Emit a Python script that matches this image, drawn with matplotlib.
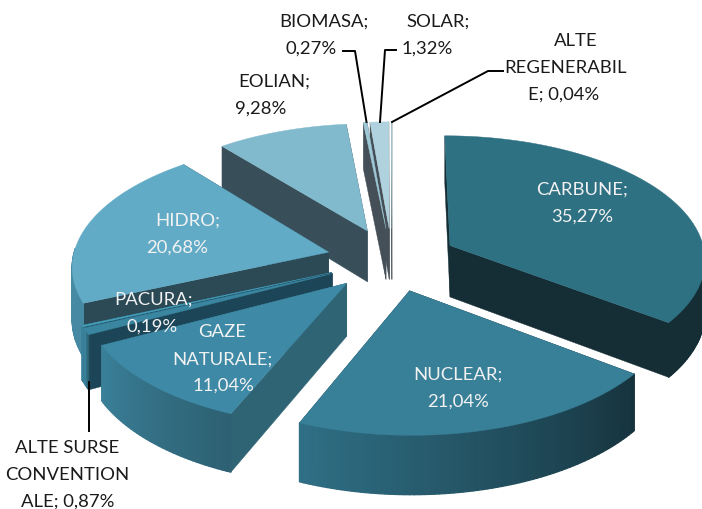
import numpy as np
import matplotlib
matplotlib.use('Agg')
import matplotlib.pyplot as plt
from matplotlib.collections import PolyCollection
from matplotlib.colors import to_rgb

plt.rcParams['font.family'] = ['Lato', 'DejaVu Sans']

# values going clockwise from the top of the pie
names = ['CARBUNE', 'NUCLEAR', 'GAZE NATURALE', 'ALTE SURSE CONVENTIONALE', 'PACURA',
         'HIDRO', 'EOLIAN', 'BIOMASA', 'SOLAR', 'ALTE REGENERABILE']
values = [35.27, 21.04, 11.04, 0.87, 0.19, 20.68, 9.28, 0.27, 1.32, 0.04]
labels = ['CARBUNE;\n35,27%', 'NUCLEAR;\n21,04%', 'GAZE\nNATURALE;\n11,04%',
          'ALTE SURSE\nCONVENTION\nALE; 0,87%', 'PACURA;\n0,19%', 'HIDRO;\n20,68%',
          'EOLIAN;\n9,28%', 'BIOMASA;\n0,27%', 'SOLAR;\n1,32%', 'ALTE\nREGENERABIL\nE; 0,04%']

top_cols = ['#2e7183', '#387f98', '#3e8aa6', '#3a85a0', '#46a0bd',
            '#62abc6', '#82bacd', '#9ec8d6', '#b0d2de', '#b5d6e0']
wall_cols = ['#152e36', '#1a3a47', '#2f6475', '#1c4658', '#1f4d60',
             '#2c4a56', '#384f5a', '#454f57', '#454f57', '#454f57']
arc_left = ['#152e36', '#2f6f85', '#3a8099', '#3a829c', '#3a829c',
            '#4a8ba3', '#6a9aad', '#6a9aad', '#6a9aad', '#6a9aad']
arc_right = ['#152e36', '#16333d', '#2d6072', '#2b6070', '#2b6070',
             '#4589a3', '#6a9aad', '#6a9aad', '#6a9aad', '#6a9aad']
label_cols = ['#f2f2f2', '#f2f2f2', '#f2f2f2', '#1a1a1a', '#f2f2f2',
              '#f2f2f2', '#1a1a1a', '#1a1a1a', '#1a1a1a', '#1a1a1a']
# centre of each text line: x per line, y of the first line
label_x = [[582, 582], [458, 458], [222, 222, 223], [67.5, 67.5, 67.5], [153, 152],
           [188, 177], [274, 261], [324, 311], [438, 427], [576, 565, 564]]
label_y = [188, 373, 331, 447, 298, 219, 80, 20, 20, 40]
LINE_GAP = 26.7

CX, CY = 392, 260.5
S, TILT, K = 256, 0.482, 0.10
DEPTH = 52
EXPLODE = 0.256


def project(u, v, z=0.0):
    w = 1 + K * v
    return np.column_stack([CX + S * u / w, CY - S * TILT * v / w + z * DEPTH / w])


fig = plt.figure(figsize=(7.02, 5.10), dpi=100)
ax = fig.add_axes([0, 0, 1, 1])
ax.set_xlim(0, 702)
ax.set_ylim(510, 0)
ax.axis('off')

fracs = np.array(values) / np.sum(values) * 2 * np.pi
ends = np.cumsum(fracs)
starts = ends - fracs
mids = (starts + ends) / 2

# far slices first so the near ones paint over them
for i in np.argsort(-np.cos(mids)):
    a = np.linspace(starts[i], ends[i], max(4, int(fracs[i] * 60)))
    ou, ov = EXPLODE * np.sin(mids[i]), EXPLODE * np.cos(mids[i])
    u, v = ou + np.sin(a), ov + np.cos(a)
    apex_u, apex_v = np.array([ou]), np.array([ov])

    for j in (0, -1):
        wall = np.vstack([project(apex_u, apex_v), project(u[[j]], v[[j]]),
                          project(u[[j]], v[[j]], 1), project(apex_u, apex_v, 1)])
        ax.fill(wall[:, 0], wall[:, 1], color=wall_cols[i], lw=0.3, zorder=2)

    # outer wall as small quads, shaded from right to left along the front
    up = project(u, v)
    lo = project(u, v, 1)
    quads, cols = [], []
    c0, c1 = np.array(to_rgb(arc_left[i])), np.array(to_rgb(arc_right[i]))
    vis = np.cos(a) < 0.02
    for k in range(len(a) - 1):
        if vis[k] or vis[k + 1]:
            quads.append([up[k], up[k + 1], lo[k + 1], lo[k]])
            t = k / max(len(a) - 2, 1)
            cols.append(c0 * t + c1 * (1 - t))
    if quads:
        ax.add_collection(PolyCollection(quads, facecolors=cols, edgecolors=cols, lw=0.9, zorder=2))

    top = np.vstack([project(apex_u, apex_v), up])
    ax.fill(top[:, 0], top[:, 1], color=top_cols[i], lw=0.3, zorder=2)

# leader lines
ax.plot([89, 89], [383, 432], color='k', lw=1.4, zorder=4)
ax.plot([343, 355, 366.5], [52, 52, 123], color='k', lw=1.4, zorder=4)
ax.plot([396, 385, 380], [51, 51, 123], color='k', lw=1.4, zorder=4)
ax.plot([392, 488, 503], [123, 72, 72], color='k', lw=1.4, zorder=4)

for txt, xs, y0, c in zip(labels, label_x, label_y, label_cols):
    for n, (line, x) in enumerate(zip(txt.split('\n'), xs)):
        ax.text(x, y0 + n * LINE_GAP + 6.5, line, color=c, fontsize=13.3,
                ha='center', va='baseline', zorder=5)

fig.savefig('out.png', dpi=100)
